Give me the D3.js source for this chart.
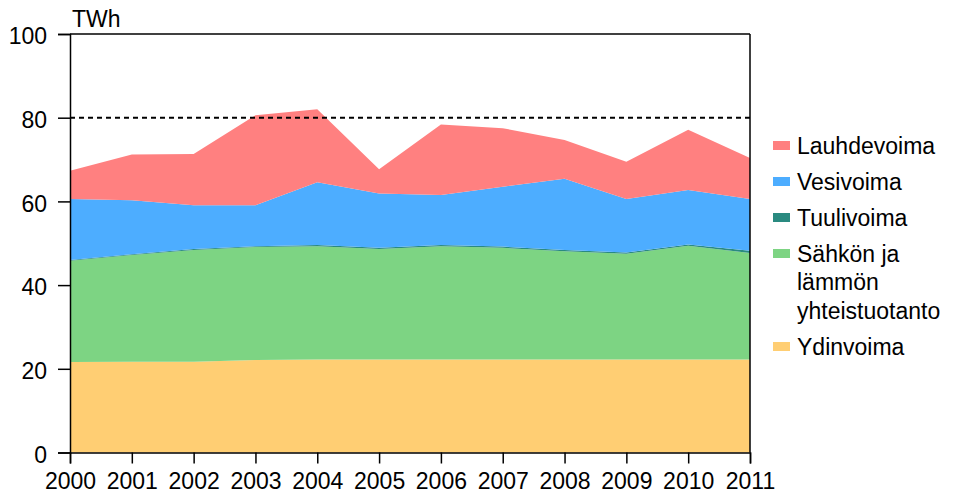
<!DOCTYPE html>
<html>
<head>
<meta charset="utf-8">
<script src="https://cdn.jsdelivr.net/npm/d3@7"></script>
<style>
  html, body { margin: 0; padding: 0; background: #fff; }
  svg { display: block; }
  text { font-family: "Liberation Sans", Arial, sans-serif; fill: #000; }
</style>
</head>
<body>
<svg id="chart" width="954" height="498"></svg>
<script>
// ---- data ----
const years = [2000, 2001, 2002, 2003, 2004, 2005, 2006, 2007, 2008, 2009, 2010, 2011];
const ydinvoima   = [21.6, 21.7, 21.7, 22.1, 22.2, 22.2, 22.2, 22.2, 22.2, 22.2, 22.2, 22.2];
const yhteistuotanto = [24.2, 25.5, 26.7, 27.0, 27.1, 26.4, 27.1, 26.7, 25.9, 25.3, 27.2, 25.5];
const tuulivoima  = [0.2, 0.2, 0.2, 0.2, 0.3, 0.3, 0.3, 0.3, 0.3, 0.3, 0.3, 0.5];
const vesivoima   = [14.6, 12.9, 10.5, 9.8, 15.0, 13.0, 11.9, 14.3, 17.0, 12.8, 13.0, 12.4];
const lauhdevoima = [6.7, 10.9, 12.2, 21.5, 17.4, 5.8, 16.9, 14.0, 9.3, 8.9, 14.4, 9.8];
const yTicks = [0, 20, 40, 60, 80, 100];
const unitLabel = "TWh";
const seriesKeys = ["Ydinvoima", "Yhteistuotanto", "Tuulivoima", "Vesivoima", "Lauhdevoima"];
const seriesColors = ["#FFCE73", "#7DD483", "#2A8A80", "#4DADFF", "#FF8080"];
const legendItems = [
  { key: "Lauhdevoima", lines: ["Lauhdevoima"] },
  { key: "Vesivoima", lines: ["Vesivoima"] },
  { key: "Tuulivoima", lines: ["Tuulivoima"] },
  { key: "Yhteistuotanto", lines: ["Sähkön ja", "lämmön", "yhteistuotanto"] },
  { key: "Ydinvoima", lines: ["Ydinvoima"] }
];
const refLine = 80;

// ---- table ----
const table = years.map((yr, i) => ({
  year: yr,
  Ydinvoima: ydinvoima[i],
  Yhteistuotanto: yhteistuotanto[i],
  Tuulivoima: tuulivoima[i],
  Vesivoima: vesivoima[i],
  Lauhdevoima: lauhdevoima[i]
}));

const svg = d3.select("#chart");
const mLeft = 70, mRight = 750, mTop = 34, mBottom = 452.5;

const x = d3.scaleLinear().domain([years[0], years[years.length - 1]]).range([mLeft, mRight]);
const y = d3.scaleLinear().domain([0, 100]).range([mBottom, mTop]);
const color = d3.scaleOrdinal().domain(seriesKeys).range(seriesColors);

const stacked = d3.stack().keys(seriesKeys)(table);
const area = d3.area()
  .x(d => x(d.data.year))
  .y0(d => y(d[0]))
  .y1(d => y(d[1]));

svg.append("g").selectAll("path")
  .data(stacked)
  .join("path")
  .attr("d", area)
  .attr("fill", d => color(d.key))
  .attr("stroke", "none");

// reference dashed line
svg.append("line")
  .attr("x1", x(years[0])).attr("x2", x(years[years.length - 1]))
  .attr("y1", y(refLine)).attr("y2", y(refLine))
  .attr("stroke", "#000").attr("stroke-width", 2)
  .attr("stroke-dasharray", "5,4");

// frame top & right
svg.append("line")
  .attr("x1", mLeft).attr("x2", mRight).attr("y1", y(100)).attr("y2", y(100))
  .attr("stroke", "#000").attr("stroke-width", 1.5);
svg.append("line")
  .attr("x1", mRight).attr("x2", mRight).attr("y1", y(100)).attr("y2", y(0))
  .attr("stroke", "#000").attr("stroke-width", 1.5);

// y axis
const yAxis = d3.axisLeft(y).tickValues(yTicks).tickSize(12).tickPadding(11).tickFormat(d3.format("d"));
const gy = svg.append("g").attr("transform", `translate(${mLeft},0)`).call(yAxis);
gy.select(".domain").attr("stroke", "#000").attr("stroke-width", 1.5);
gy.selectAll(".tick line").attr("stroke", "#000").attr("stroke-width", 1.5);
gy.selectAll(".tick text")
  .style("font-size", "23px").style("font-family", "'Liberation Sans', Arial, sans-serif")
  .attr("fill", "#000").attr("dy", "0.42em");

// x axis
const xAxis = d3.axisBottom(x).tickValues(years).tickSize(11).tickPadding(9).tickFormat(d3.format("d"));
const gx = svg.append("g").attr("transform", `translate(0,${mBottom})`).call(xAxis);
gx.select(".domain").attr("stroke", "#000").attr("stroke-width", 1.5);
gx.selectAll(".tick line").attr("stroke", "#000").attr("stroke-width", 1.5);
gx.selectAll(".tick text")
  .style("font-size", "23px").style("font-family", "'Liberation Sans', Arial, sans-serif")
  .attr("fill", "#000");

// unit label
svg.append("text").attr("x", 72).attr("y", 27).style("font-size", "23px").text(unitLabel);

// legend
const legend = svg.append("g");
let baseY = 153.5;
legendItems.forEach(item => {
  legend.append("rect")
    .attr("x", 773).attr("y", baseY - 12.5)
    .attr("width", 17).attr("height", 9)
    .attr("fill", color(item.key));
  item.lines.forEach((ln, j) => {
    legend.append("text")
      .attr("x", 797).attr("y", baseY + j * 28.5)
      .style("font-size", "23px")
      .text(ln);
  });
  baseY += (item.lines.length - 1) * 28.5 + 36;
});
</script>
</body>
</html>
